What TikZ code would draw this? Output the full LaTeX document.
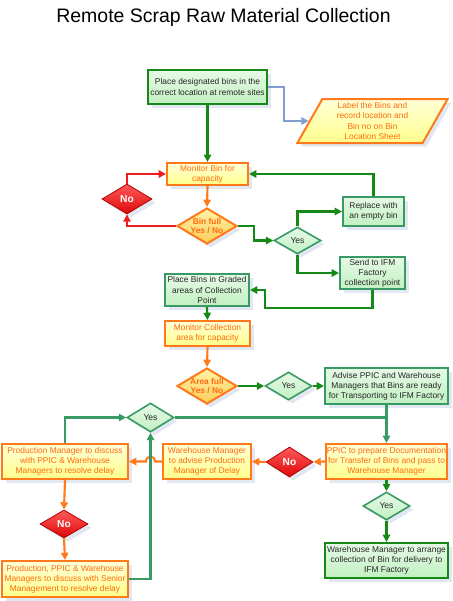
\documentclass[tikz,border=0pt]{standalone}
\usepackage{fontspec}
\setmainfont{Liberation Sans}
\usetikzlibrary{shapes.geometric,arrows.meta,shadows}
\definecolor{dgreen}{HTML}{168816}
\definecolor{sgreen}{HTML}{3A9A66}
\definecolor{gtop}{HTML}{E6FAE6}
\definecolor{gbot}{HTML}{C2F0C2}
\definecolor{orangeb}{HTML}{FF7A1A}
\definecolor{orangetxt}{HTML}{FF6A10}
\definecolor{ytop}{HTML}{FFFFD8}
\definecolor{ybot}{HTML}{FFFF8C}
\definecolor{otop}{HTML}{FFF4A8}
\definecolor{obot}{HTML}{FFCC5A}
\definecolor{rtop}{HTML}{FF5A5A}
\definecolor{rbot}{HTML}{DD0808}
\definecolor{redl}{HTML}{F01C1C}
\definecolor{shadowc}{HTML}{C4D2E6}
\definecolor{lineblue}{HTML}{7F9FCF}
\begin{document}
\begin{tikzpicture}[x=0.75pt,y=-0.75pt,
  sz/.style 2 args={minimum width=#1*0.75pt, minimum height=#2*0.75pt},
  base/.style={draw, line width=1.5pt, align=center, inner sep=0pt,
    drop shadow={shadow xshift=2.8pt, shadow yshift=-2.8pt, fill=shadowc}},
  txt/.style={font=\fontsize{6.3}{7.6}\selectfont},
  gbox/.style={base, txt, rectangle, draw=dgreen, top color=gtop, bottom color=gbot, text=black!85},
  sbox/.style={gbox, draw=sgreen},
  obox/.style={base, txt, rectangle, draw=orangeb, top color=ytop, bottom color=ybot, text=orangetxt},
  lbox/.style={base, txt, trapezium, trapezium left angle=64, trapezium right angle=116,
    trapezium stretches=true, draw=orangeb, top color=ytop, bottom color=ybot, text=orangetxt},
  ydia/.style={base, diamond, line width=1.2pt, draw=sgreen, top color=gtop, bottom color=gbot},
  rdia/.style={base, diamond, line width=0.6pt, draw=red!70!black, top color=rtop, bottom color=rbot},
  odia/.style={base, diamond, draw=orangeb, top color=otop, bottom color=obot},
  ytxt/.style={font=\fontsize{6.4}{7.5}\selectfont, text=black!85, inner sep=0pt},
  ntxt/.style={font=\bfseries\fontsize{7.6}{9}\selectfont, text=white, inner sep=0pt},
  btxt/.style={font=\bfseries\fontsize{6.3}{7.3}\selectfont, text=orangetxt, align=center, inner sep=0pt},
  conn/.style={line width=1.6pt, -{Triangle[length=5.5pt,width=5.5pt]}},
  gl/.style={conn, draw=dgreen},
  sl/.style={conn, draw=sgreen},
  ol/.style={conn, draw=orangeb},
  rl/.style={conn, draw=redl},
  bl/.style={conn, line width=1.2pt, draw=lineblue}]
\useasboundingbox (0,0) rectangle (453,601);

\node[anchor=base, font=\fontsize{14.6}{17}\selectfont] (title) at (223.5,22) {Remote Scrap Raw Material Collection};

\node[gbox, sz={119}{34}] (A) at (207.5,87) {Place designated bins in the\\correct location at remote sites};
\node[lbox, sz={151}{44}] (L) at (372.5,121) {Label the Bins and\\record location and\\Bin no on Bin\\Location Sheet};
\node[obox, sz={81}{22}] (M1) at (207.5,174) {Monitor Bin for\\capacity};
\node[rdia, sz={50}{30}, label={[ntxt]center:No}] (N1) at (127,199) {};
\node[odia, sz={60}{36}, label={[btxt]center:Bin full\\Yes / No}] (BF) at (207,226) {};
\node[ydia, sz={47}{27}, label={[ytxt]center:Yes}] (Y1) at (297.5,240.5) {};
\node[sbox, sz={61}{29}] (R) at (373.5,211.5) {Replace with\\an empty bin};
\node[sbox, sz={65}{32}] (S) at (372.5,273) {Send to IFM\\Factory\\collection point};
\node[sbox, sz={84}{32}] (P) at (207,290) {Place Bins in Graded\\areas of Collection\\Point};
\node[obox, sz={85}{25}] (MC) at (207.5,333.5) {Monitor Collection\\area for capacity};
\node[odia, sz={60}{36}, label={[btxt]center:Area full\\Yes / No}] (AF) at (207,386) {};
\node[ydia, sz={47}{28}, label={[ytxt]center:Yes}] (Y2) at (288.5,386) {};
\node[sbox, sz={123}{36}] (AD) at (386.5,386) {Advise PPIC and Warehouse\\Managers that Bins are ready\\for Transporting to IFM Factory};
\node[ydia, sz={47}{29}, label={[ytxt]center:Yes}] (Y3) at (150.5,417.5) {};
\node[obox, sz={121}{35}] (PP) at (386.5,461.5) {PPIC to prepare Documentation\\for Transfer of Bins and pass to\\Warehouse Manager};
\node[rdia, sz={47}{30}, label={[ntxt]center:No}] (N2) at (289.5,462) {};
\node[obox, sz={88}{35}] (WM) at (207,461.5) {Warehouse Manager\\to advise Production\\Manager of Delay};
\node[obox, sz={126}{35}] (PM) at (65,461.5) {Production Manager to discuss\\with PPIC \& Warehouse\\Managers to resolve delay};
\node[rdia, sz={48}{28}, label={[ntxt]center:No}] (N3) at (64,524) {};
\node[obox, sz={126}{36}] (FB) at (65,579) {Production, PPIC \& Warehouse\\Managers to discuss with Senior\\Management to resolve delay};
\node[ydia, sz={47}{28}, label={[ytxt]center:Yes}] (Y4) at (386.5,506) {};
\node[gbox, sz={123}{35}] (WA) at (386.5,560.5) {Warehouse Manager to arrange\\collection of Bin for delivery to\\IFM Factory};

\draw[bl] (A.east) -- ++(16,0) |- (L.west);
\draw[gl] (A.south) -- (M1.north);
\draw[ol] (M1.south) -- (BF.north);
\draw[rl] (BF.west) -| (N1.south);
\draw[rl] (N1.north) |- (M1.west);
\draw[gl] (BF.east) -- ++(16,0) |- (Y1.west);
\draw[gl] (Y1.north) |- (R.west);
\draw[gl] (Y1.south) |- (S.west);
\draw[gl] (R.north) |- (M1.east);
\draw[gl] (S.south) |- (265,308) |- (P.east);
\draw[gl] (P.south) -- (MC.north);
\draw[ol] (MC.south) -- (AF.north);
\draw[gl] (AF.east) -- (Y2.west);
\draw[gl] (Y2.east) -- (AD.west);
\draw[sl] (AD.south) -- (PP.north);
\draw[sl, -] (Y3.east) -- (Y3.east -| AD.south);
\draw[ol] (PP.west) -- (N2.east);
\draw[ol] (N2.west) -- (WM.east);
\draw[ol] (WM.west) -- (155,461.5) .. controls (155,455) and (146,455) .. (146,461.5) -- (PM.east);
\draw[sl] (PM.north) |- (Y3.west);
\draw[ol] (PM.south) -- (N3.north);
\draw[ol] (N3.south) -- (FB.north);
\draw[sl] (FB.east) -| (Y3.south);
\draw[gl] (PP.south) -- (Y4.north);
\draw[gl] (Y4.south) -- (WA.north);
\end{tikzpicture}
\end{document}
